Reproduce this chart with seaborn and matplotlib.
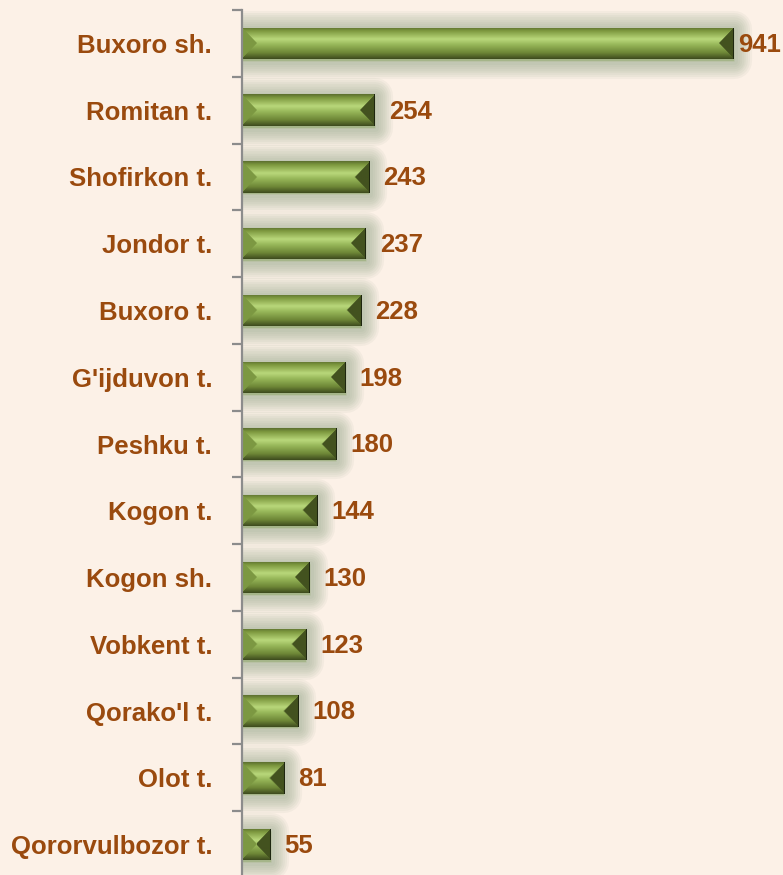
import matplotlib
matplotlib.use("Agg")
import matplotlib.pyplot as plt
import matplotlib.patheffects as pe
import numpy as np
import pandas as pd
import seaborn as sns
from matplotlib.colors import to_rgb

# Data
DISTRICTS = [
    "Buxoro sh.", "Romitan t.", "Shofirkon t.", "Jondor t.", "Buxoro t.",
    "G'ijduvon t.", "Peshku t.", "Kogon t.", "Kogon sh.", "Vobkent t.",
    "Qorako'l t.", "Olot t.", "Qororvulbozor t.",
]
COUNTS = [941, 254, 243, 237, 228, 198, 180, 144, 130, 123, 108, 81, 55]

BG = "#FCF1E7"
TEXT = "#9A4A0E"
GLOW = "#7F9B7A"

# vertical gradient of the bar's top/bottom faces
GRAD_STOPS = [(0.0, "#5B6E2E"), (0.12, "#7E993F"), (0.38, "#B9D87B"),
              (0.55, "#97B759"), (0.8, "#6E8737"), (1.0, "#3D4A1D")]
LEFT_FACE = "#7C9842"
RIGHT_FACE = "#43521F"
FS = 18.5


def grad_color(t):
    ts = [s[0] for s in GRAD_STOPS]
    cols = np.array([to_rgb(s[1]) for s in GRAD_STOPS])
    return np.array([np.interp(t, ts, cols[:, k]) for k in range(3)]).T


def bevel_image(w_px, h_px):
    w = max(int(round(w_px)), 2)
    h = max(int(round(h_px)), 2)
    u = (np.arange(w) + 0.5)[None, :].repeat(h, 0)
    v = (np.arange(h) + 0.5)[:, None].repeat(w, 1)
    d = np.stack([v, h - v, u, w - u])
    face = d.argmin(axis=0)
    img = grad_color((v / h).ravel()).reshape(h, w, 3)
    img[face == 2] = to_rgb(LEFT_FACE)
    img[face == 3] = to_rgb(RIGHT_FACE)
    img[:, -1:] = (0.12, 0.15, 0.06)
    return img


df = pd.DataFrame({"district": DISTRICTS, "count": COUNTS})

plt.rcParams["font.family"] = ["Liberation Sans", "DejaVu Sans"]
fig = plt.figure(figsize=(7.83, 8.75), dpi=100, facecolor=BG)
ax = fig.add_axes([242 / 783, -3 / 875, 541 / 783, 868 / 875])
ax.set_facecolor(BG)

sns.barplot(data=df, x="count", y="district", orient="h", color="#8BA84D",
            width=0.47, saturation=1, ax=ax, linewidth=0)

XMAX = 541 / ((734 - 242) / 941)
ax.set_xlim(0, XMAX)
ax.set_ylim(len(DISTRICTS) - 0.5, -0.5)

# soft glow: many thin translucent strokes, slightly shifted down
glow = [
    pe.withStroke(linewidth=lw, foreground=GLOW, alpha=0.07,
                  joinstyle="round", offset=(0, -1.2))
    for lw in range(26, 2, -3)
] + [pe.Normal()]

max_val = max(COUNTS)
for patch, val in zip(ax.patches, COUNTS):
    patch.set_path_effects(glow)
    x0, y0 = patch.get_x(), patch.get_y()
    x1, y1 = x0 + patch.get_width(), y0 + patch.get_height()
    p0 = ax.transData.transform((x0, y0))
    p1 = ax.transData.transform((x1, y1))
    img = bevel_image(abs(p1[0] - p0[0]), abs(p1[1] - p0[1]))
    im = ax.imshow(img, extent=(x0, x1, y1, y0), origin="upper",
                   aspect="auto", zorder=patch.get_zorder() + 0.5,
                   interpolation="bilinear")
    im.set_clip_path(patch)
    offset = 3 if val == max_val else 10
    ax.annotate(f"{val}", (x1, y0 + patch.get_height() / 2),
                xytext=(offset, -1), textcoords="offset points",
                ha="left", va="center", color=TEXT, fontsize=FS,
                fontweight="bold", annotation_clip=False)

ax.set_xlim(0, XMAX)
ax.set_ylim(len(DISTRICTS) - 0.5, -0.5)

for side in ["top", "right", "bottom"]:
    ax.spines[side].set_visible(False)
ax.spines["left"].set_color("#8C8C8C")
ax.spines["left"].set_linewidth(1.6)
ax.set_xticks([])
ax.set_xlabel("")
ax.set_ylabel("")
ax.set_yticks(range(len(DISTRICTS)))
ax.set_yticklabels(DISTRICTS)
ax.tick_params(axis="y", which="major", length=0, pad=21.5, labelsize=FS,
               labelcolor=TEXT)
for lbl in ax.get_yticklabels():
    lbl.set_fontweight("bold")
ax.set_yticks(np.arange(len(DISTRICTS) + 1) - 0.5, minor=True)
ax.tick_params(axis="y", which="minor", length=7, width=1.6, color="#8C8C8C")

fig.savefig("out.png", dpi=100, facecolor=BG)
